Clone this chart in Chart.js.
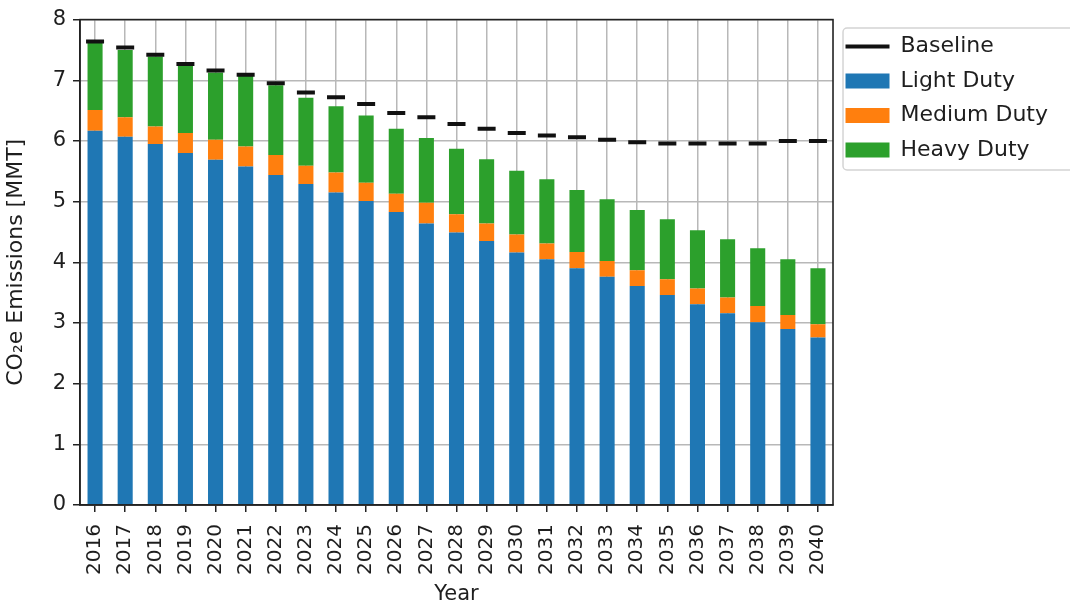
<!DOCTYPE html>
<html>
<head>
<meta charset="utf-8">
<script src="https://cdn.jsdelivr.net/npm/chart.js@4.4.1/dist/chart.umd.min.js"></script>
<style>
  html, body { margin: 0; padding: 0; background: #fff; }
  #wrap { width: 1070px; height: 607px; }
</style>
</head>
<body>
<div id="wrap"><canvas id="co2Chart" width="1070" height="607"></canvas></div>
<script>
// Data (MMT CO2e)
const years = ['2016', '2017', '2018', '2019', '2020', '2021', '2022', '2023', '2024', '2025',
  '2026', '2027', '2028', '2029', '2030', '2031', '2032', '2033', '2034', '2035',
  '2036', '2037', '2038', '2039', '2040'];
const lightDuty = [6.17, 6.07, 5.95, 5.80, 5.69, 5.58, 5.44, 5.29, 5.15, 5.01,
  4.83, 4.64, 4.49, 4.35, 4.16, 4.05, 3.90, 3.76, 3.61, 3.46,
  3.31, 3.16, 3.01, 2.90, 2.76];
const mediumDuty = [0.34, 0.32, 0.29, 0.33, 0.33, 0.33, 0.33, 0.30, 0.33, 0.30,
  0.30, 0.34, 0.30, 0.29, 0.30, 0.26, 0.27, 0.26, 0.26, 0.26,
  0.26, 0.26, 0.27, 0.23, 0.22];
const heavyDuty = [1.11, 1.11, 1.15, 1.12, 1.11, 1.16, 1.15, 1.12, 1.09, 1.11,
  1.07, 1.07, 1.08, 1.06, 1.05, 1.06, 1.02, 1.02, 0.99, 0.99,
  0.96, 0.96, 0.95, 0.92, 0.92];
const baseline = [7.64, 7.54, 7.42, 7.27, 7.16, 7.09, 6.95, 6.80, 6.72, 6.61,
  6.46, 6.39, 6.28, 6.20, 6.13, 6.09, 6.06, 6.02, 5.98, 5.96,
  5.96, 5.96, 5.96, 6.00, 6.00];

const FONT = 'DejaVu Sans';
const TEXT = '#1e1e1e';
const GRID = '#b8b8b8';

// Box around the plot (all four spines) and the legend frame
const framePlugin = {
  id: 'framePlugin',
  afterDraw(chart) {
    const { ctx, chartArea, legend } = chart;
    ctx.save();
    ctx.strokeStyle = '#222';
    ctx.lineWidth = 1.6;
    ctx.strokeRect(chartArea.left, chartArea.top, chartArea.right - chartArea.left, chartArea.bottom - chartArea.top);

    // legend frame
    const x = chartArea.right + 10;
    const y = 28;
    ctx.strokeStyle = '#d4d4d4';
    ctx.lineWidth = 1.5;
    ctx.beginPath();
    ctx.roundRect(x, y, chart.width - x + 20, 142, 4);
    ctx.stroke();
    ctx.restore();
  }
};

const ctx = document.getElementById('co2Chart').getContext('2d');
const chart = new Chart(ctx, {
  data: {
    labels: years,
    datasets: [
      {
        type: 'line',
        label: 'Baseline',
        data: baseline,
        stack: 'baseline',
        showLine: false,
        borderColor: '#000',
        backgroundColor: '#000',
        pointStyle: 'line',
        pointRadius: 9,
        pointHoverRadius: 9,
        pointBorderWidth: 4,
        pointBorderColor: '#111',
        order: 0
      },
      {
        type: 'bar',
        label: 'Light Duty',
        data: lightDuty,
        backgroundColor: '#1f77b4',
        pointStyle: 'rect',
        barPercentage: 0.5,
        categoryPercentage: 1.0,
        order: 1
      },
      {
        type: 'bar',
        label: 'Medium Duty',
        data: mediumDuty,
        backgroundColor: '#ff7f0e',
        pointStyle: 'rect',
        barPercentage: 0.5,
        categoryPercentage: 1.0,
        order: 1
      },
      {
        type: 'bar',
        label: 'Heavy Duty',
        data: heavyDuty,
        backgroundColor: '#2ca02c',
        pointStyle: 'rect',
        barPercentage: 0.5,
        categoryPercentage: 1.0,
        order: 1
      }
    ]
  },
  options: {
    responsive: false,
    animation: false,
    layout: {
      padding: { top: 17, right: 12, bottom: 0, left: 0 }
    },
    scales: {
      x: {
        stacked: true,
        afterFit: (scale) => { scale.height = 102; },
        grid: {
          offset: false,
          color: GRID,
          lineWidth: 1.5,
          tickColor: '#222',
          tickLength: 7,
          tickWidth: 1.5
        },
        border: { color: '#222', width: 1.6 },
        ticks: {
          autoSkip: false,
          maxRotation: 90,
          minRotation: 90,
          padding: 12,
          color: TEXT,
          font: { family: FONT, size: 20 }
        },
        title: {
          display: true,
          text: 'Year',
          color: TEXT,
          padding: { top: 0, bottom: 0 },
          font: { family: FONT, size: 21 }
        }
      },
      y: {
        stacked: true,
        min: 0,
        max: 8,
        afterFit: (scale) => { scale.width = 80; },
        grid: {
          color: GRID,
          lineWidth: 1.5,
          tickColor: '#222',
          tickLength: 7,
          tickWidth: 1.5
        },
        border: { color: '#222', width: 1.6 },
        ticks: {
          stepSize: 1,
          padding: 7,
          color: TEXT,
          font: { family: FONT, size: 21 }
        },
        title: {
          display: true,
          text: 'CO₂e Emissions [MMT]',
          color: TEXT,
          padding: { top: 3, bottom: 0 },
          font: { family: FONT, size: 22 }
        }
      }
    },
    plugins: {
      legend: {
        position: 'right',
        align: 'start',
        // empty title only used as a spacer above the items
        title: { display: true, text: '', padding: 0, font: { size: 5 } },
        labels: {
          usePointStyle: true,
          pointStyleWidth: 44,
          boxHeight: 15,
          padding: 12.5,
          color: TEXT,
          font: { family: FONT, size: 22 }
        }
      },
      tooltip: { enabled: false }
    }
  },
  plugins: [framePlugin]
});
</script>
</body>
</html>
